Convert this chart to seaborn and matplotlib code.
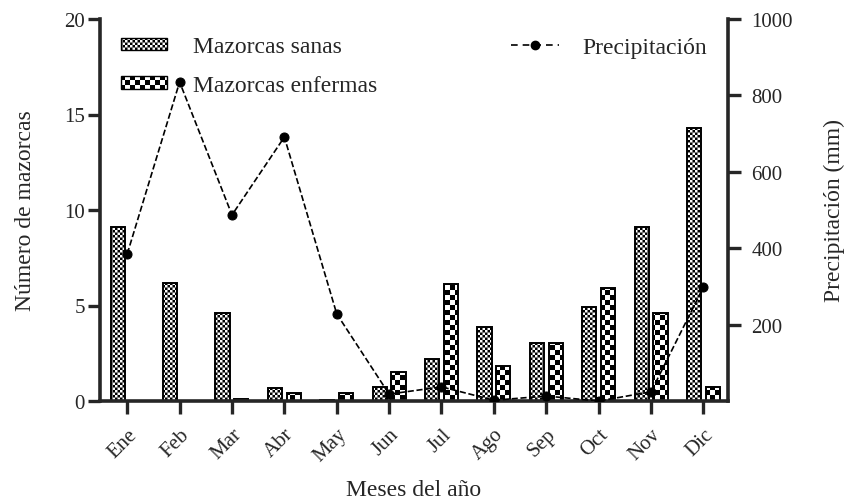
import matplotlib
matplotlib.use('Agg')
import matplotlib.pyplot as plt
import matplotlib.hatch as mhatch
from matplotlib.path import Path
from matplotlib.patches import Patch
from matplotlib.lines import Line2D
import seaborn as sns
import pandas as pd
import numpy as np

# Data
months = ['Ene', 'Feb', 'Mar', 'Abr', 'May', 'Jun', 'Jul', 'Ago', 'Sep', 'Oct', 'Nov', 'Dic']
sanas = [9.1, 6.2, 4.6, 0.7, 0.05, 0.75, 2.2, 3.9, 3.05, 4.9, 9.1, 14.3]
enfermas = [0.0, 0.0, 0.08, 0.4, 0.4, 1.5, 6.1, 1.85, 3.05, 5.9, 4.6, 0.75]
precip = [385, 835, 487, 691, 228, 18, 37, 2, 13, 0, 24, 298]


# Checkerboard hatches (fine for sanas, coarse for enfermas)
class Checker(mhatch.HatchPatternBase):
    char = '.'
    cells = 40

    def __init__(self, hatch, density):
        self.filled = True
        n_black = self.cells * self.cells // 2
        self.num_vertices = n_black * 5 if self.char in hatch else 0

    def set_vertices_and_codes(self, vertices, codes):
        n = self.cells
        s = 1.0 / n
        i = 0
        for r in range(n):
            for c in range(n):
                if (r + c) % 2:
                    continue
                x0, y0 = c * s, r * s
                vertices[i:i + 5] = [(x0, y0), (x0 + s, y0), (x0 + s, y0 + s),
                                     (x0, y0 + s), (x0, y0)]
                codes[i:i + 5] = [Path.MOVETO, Path.LINETO, Path.LINETO,
                                  Path.LINETO, Path.CLOSEPOLY]
                i += 5


class FineChecker(Checker):
    char = '.'
    cells = 40


class CoarseChecker(Checker):
    char = '*'
    cells = 20


mhatch._hatch_types = [t for t in mhatch._hatch_types
                       if t not in (mhatch.SmallFilledCircles, mhatch.Stars)]
mhatch._hatch_types += [FineChecker, CoarseChecker]

sns.set_style('ticks')
plt.rcParams['font.family'] = ['Liberation Serif', 'DejaVu Serif']
plt.rcParams['hatch.linewidth'] = 0.01
plt.rcParams['hatch.color'] = 'black'

LABEL_FS = 17
TICK_FS = 15

df = pd.DataFrame({
    'mes': months * 2,
    'valor': sanas + enfermas,
    'tipo': ['Mazorcas sanas'] * 12 + ['Mazorcas enfermas'] * 12,
})

fig = plt.figure(figsize=(8.46, 5.02), dpi=100)
ax = fig.add_axes([100 / 846, 1 - 402 / 502, 628 / 846, 382 / 502])

sns.barplot(data=df, x='mes', y='valor', hue='tipo', ax=ax, width=0.72, gap=0.25,
            palette=['white', 'white'], edgecolor='black', linewidth=1.4,
            legend=False, errorbar=None)
for cont, h in zip(ax.containers, ['.', '*']):
    for bar in cont:
        bar.set_hatch(h)
        bar.set_edgecolor('black')

ax.set_ylim(0, 20)
ax.set_yticks([0, 5, 10, 15, 20])
ax.set_xlabel('Meses del año', fontsize=LABEL_FS, labelpad=10)
ax.set_ylabel('Número de mazorcas', fontsize=LABEL_FS, labelpad=20)
ax.tick_params(axis='y', direction='out', length=9, width=2.4, labelsize=TICK_FS, pad=2)
ax.tick_params(axis='x', direction='out', length=9, width=2.4, labelsize=TICK_FS, pad=8)
plt.setp(ax.get_xticklabels(), rotation=45, ha='right', rotation_mode='anchor')
for s in ['top', 'right']:
    ax.spines[s].set_visible(False)
for s in ['left', 'bottom']:
    ax.spines[s].set_linewidth(2.6)

ax2 = ax.twinx()
sns.lineplot(x=np.arange(len(months)), y=precip, ax=ax2, color='black',
             linestyle='--', linewidth=1.2, marker='o', markersize=6.5,
             markeredgecolor='black', dashes=(4, 3))
ax2.set_ylim(0, 1000)
ax2.set_yticks([200, 400, 600, 800, 1000])
ax2.set_ylabel('Precipitación (mm)', fontsize=LABEL_FS, labelpad=22)
ax2.tick_params(axis='y', direction='out', length=9, width=2.4, labelsize=TICK_FS, pad=8)
for s in ['top', 'left', 'bottom']:
    ax2.spines[s].set_visible(False)
ax2.spines['right'].set_linewidth(2.6)
ax.set_xlim(-0.52, 11.47)

bar_handles = [Patch(facecolor='white', edgecolor='black', hatch='.', label='Mazorcas sanas'),
               Patch(facecolor='white', edgecolor='black', hatch='*', label='Mazorcas enfermas')]
leg1 = ax2.legend(handles=bar_handles, loc='upper left', bbox_to_anchor=(0.0, 1.01),
                  frameon=False, fontsize=LABEL_FS, handlelength=1.95, handleheight=0.45,
                  handletextpad=1.1, labelspacing=0.75)
ax2.add_artist(leg1)
line_handle = [Line2D([], [], color='black', linestyle='--', dashes=(4, 3), marker='o',
                      markersize=6, linewidth=1.2, label='Precipitación')]
ax2.legend(handles=line_handle, loc='upper right', bbox_to_anchor=(1.0, 1.01),
           frameon=False, fontsize=LABEL_FS, handlelength=2.0, handletextpad=1.0)

fig.savefig('out.png', dpi=100)
